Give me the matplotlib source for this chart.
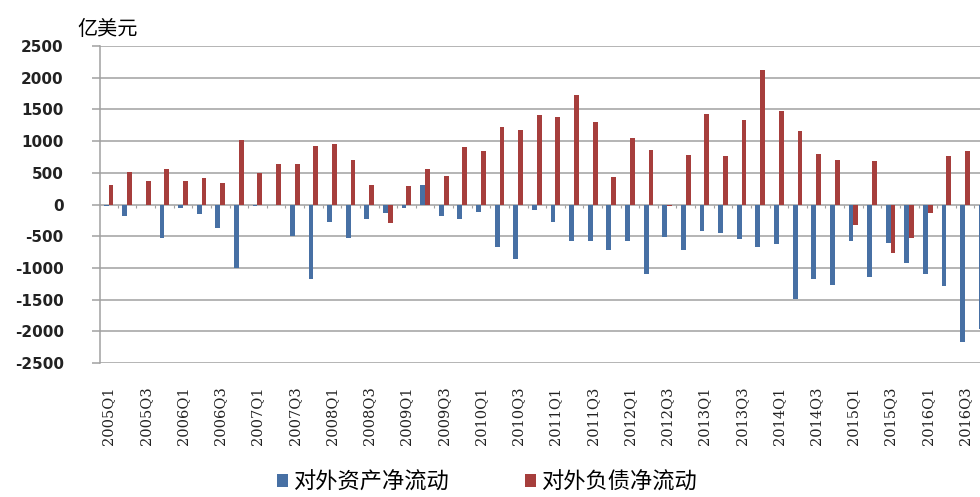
import numpy as np
import matplotlib
matplotlib.use('Agg')
import matplotlib.pyplot as plt

plt.rcParams['font.family'] = ['Noto Sans CJK SC', 'DejaVu Sans']

# quarters 2005Q1 .. 2016Q4
quarters = ['%dQ%d' % (y, q) for y in range(2005, 2017) for q in range(1, 5)]

# 对外资产净流动 (blue), 亿美元
asset_flow = [-20, -185, -10, -525, -60, -155, -365, -1000,
              -20, -10, -500, -1180, -280, -525, -235, -130,
              -50, 305, -175, -235, -120, -665, -865, -80,
              -280, -575, -575, -720, -575, -1100, -515, -720,
              -420, -445, -540, -665, -630, -1485, -1170, -1275,
              -575, -1150, -600, -930, -1100, -1285, -2170, -1970]

# 对外负债净流动 (red), 亿美元
liab_flow = [300, 510, 378, 560, 378, 420, 340, 1010,
             495, 645, 645, 930, 960, 710, 300, -290,
             290, 555, 455, 910, 840, 1220, 1170, 1415,
             1380, 1720, 1295, 435, 1050, 855, -20, 775,
             1430, 760, 1330, 2125, 1470, 1155, 800, 710,
             -325, 680, -760, -525, -130, 760, 840, 300]

yticks = [2500, 2000, 1500, 1000, 500, 0, -500, -1000, -1500, -2000, -2500]
names = ['对外资产净流动', '对外负债净流动']

fig = plt.figure(figsize=(9.8, 4.97), dpi=100)
ax = fig.add_axes([0.102, 0.2696, 0.898, 0.6378])

x = np.arange(len(quarters))
w = 0.26
ax.bar(x - w/2, asset_flow, w, color='#4770a4', label=names[0], zorder=3)
ax.bar(x + w/2, liab_flow, w, color='#a63e3c', label=names[1], zorder=3)

# category tick marks on the zero line
ax.vlines(np.arange(-0.5, len(quarters)), -60, 0, color='#a0a0a0', lw=0.8, zorder=2)

ax.set_ylim(-2500, 2500)
ax.set_xlim(-0.46, 46.8)
ax.set_yticks(yticks)
ax.set_yticklabels([str(v) for v in yticks], fontsize=11, fontweight='bold',
                   family='DejaVu Sans', color='#222222')
ax.yaxis.grid(True, color='#a0a0a0', lw=1.1, zorder=0)
ax.tick_params(axis='y', length=6, width=1.1, color='#a0a0a0', pad=20)

ax.set_xticks(x[::2])
ax.set_xticklabels(quarters[::2], rotation=90, fontsize=10.5, family='DejaVu Serif',
                   color='#222222', va='top')
ax.tick_params(axis='x', length=0, pad=17)

for s in ['top', 'right', 'bottom']:
    ax.spines[s].set_visible(False)
ax.spines['left'].set_color('#a0a0a0')
ax.spines['left'].set_linewidth(1.1)

fig.text(0.079, 0.94, '亿美元', fontsize=14.5, va='center', ha='left')

leg = fig.legend(loc='center', bbox_to_anchor=(0.497, 0.030), ncol=2, frameon=False,
                 fontsize=16, handlelength=0.5, handleheight=0.5, handletextpad=0.25,
                 columnspacing=3.4)

plt.savefig('out.png', dpi=100)
